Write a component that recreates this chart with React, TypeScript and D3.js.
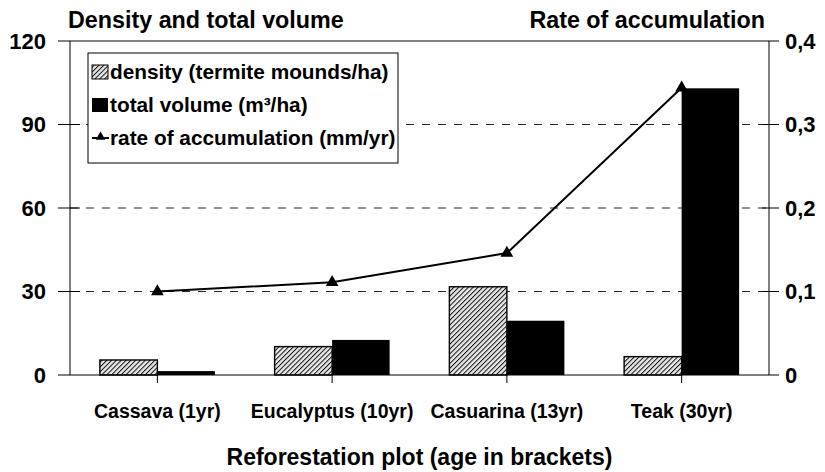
import * as d3 from "d3"
import React from "react"

// values
const categories = ["Cassava (1yr)", "Eucalyptus (10yr)", "Casuarina (13yr)", "Teak (30yr)"]
const density = [5.4, 10.2, 31.7, 6.6]
const volume = [1.4, 12.6, 19.5, 103]
const rate = [0.1, 0.111, 0.146, 0.344]
const leftTicks = [0, 30, 60, 90, 120]
const rightTicks = [0, 0.1, 0.2, 0.3, 0.4]
const legendItems = ["density (termite mounds/ha)", "total volume (m\u00b3/ha)", "rate of accumulation (mm/yr)"]

const width = 825
const height = 472
const margin = { left: 70, right: 56, top: 41, bottom: 97 }
const font = "'Liberation Sans', Arial, Helvetica, sans-serif"

const App = () => {
  const x = d3
    .scaleBand()
    .domain(categories)
    .range([margin.left, width - margin.right])
  const groupW = 115
  const x1 = d3.scaleBand().domain(["density", "volume"]).range([0, groupW])
  const y = d3
    .scaleLinear()
    .domain([0, 120])
    .range([height - margin.bottom, margin.top])
  const y2 = d3
    .scaleLinear()
    .domain([0, 0.4])
    .range([height - margin.bottom, margin.top])

  const cx = (c) => x(c) + x.bandwidth() / 2
  const x0 = margin.left
  const xr = width - margin.right
  const yb = y(0)
  const yt = y(120)

  const line = d3
    .line()
    .x((d, i) => cx(categories[i]))
    .y((d) => y2(d))
  const tri = d3.symbol(d3.symbolTriangle, 70)()
  const fmtR = (v) => (v === 0 ? "0" : d3.format(".1f")(v).replace(".", ","))

  return (
    <svg
      width={width}
      height={height}
      style={{ position: "absolute", left: 0, top: 0, background: "#fff" }}
      fontFamily={font}
      fontWeight="bold"
    >
      <defs>
        <pattern id="hatch" width="3.4" height="3.4" patternUnits="userSpaceOnUse" patternTransform="rotate(45)">
          <rect width="3.4" height="3.4" fill="#e8e8e8" />
          <line x1="0" y1="0" x2="0" y2="3.4" stroke="#111" strokeWidth="2" />
        </pattern>
      </defs>

      {/* gridlines */}
      {leftTicks
        .filter((t) => t > 0 && t < 120)
        .map((t) => (
          <line key={t} x1={x0} x2={xr} y1={y(t)} y2={y(t)} stroke="#222" strokeDasharray="8,8" />
        ))}

      {/* bars */}
      {categories.map((c, i) => {
        const gx = cx(c) - groupW / 2
        return (
          <g key={c}>
            <rect
              x={gx + x1("density")}
              y={y(density[i])}
              width={x1.bandwidth()}
              height={yb - y(density[i])}
              fill="url(#hatch)"
              stroke="#000"
              strokeWidth={1.4}
            />
            <rect
              x={gx + x1("volume")}
              y={y(volume[i])}
              width={x1.bandwidth()}
              height={yb - y(volume[i])}
              fill="#000"
            />
          </g>
        )
      })}

      {/* frame */}
      <line x1={x0} x2={xr} y1={yt} y2={yt} stroke="#000" />
      <line x1={x0} x2={x0} y1={yt} y2={yb} stroke="#000" />
      <line x1={xr} x2={xr} y1={yt} y2={yb} stroke="#000" />
      <line x1={x0} x2={xr} y1={yb} y2={yb} stroke="#000" />

      {/* left axis */}
      {leftTicks.map((t) => (
        <g key={t}>
          <line x1={x0 - 12} x2={t > 0 && t < 120 ? x0 + 10 : x0} y1={y(t)} y2={y(t)} stroke="#000" />
          <text x={46} y={y(t)} dy="0.36em" textAnchor="end" fontSize={22}>
            {t}
          </text>
        </g>
      ))}

      {/* right axis */}
      {rightTicks.map((t) => (
        <g key={t}>
          <line x1={t > 0 && t < 0.4 ? xr - 7 : xr} x2={xr + 10} y1={y2(t)} y2={y2(t)} stroke="#000" />
          <text x={785} y={y2(t)} dy="0.36em" textAnchor="start" fontSize={22}>
            {fmtR(t)}
          </text>
        </g>
      ))}

      {/* x axis ticks and labels */}
      {categories.map((c) => (
        <g key={c}>
          <line x1={cx(c)} x2={cx(c)} y1={yb} y2={yb + 8} stroke="#000" />
          <text x={cx(c)} y={418} textAnchor="middle" fontSize={19.5}>
            {c}
          </text>
        </g>
      ))}

      {/* rate line */}
      <path d={line(rate)} fill="none" stroke="#000" strokeWidth={2} />
      {rate.map((r, i) => (
        <path key={i} d={tri} transform={`translate(${cx(categories[i])},${y2(r)})`} fill="#000" />
      ))}

      {/* legend */}
      <rect x={88} y={53} width={310} height={110} fill="#fff" stroke="#000" />
      <rect x={92} y={65} width={16} height={14} fill="url(#hatch)" stroke="#000" />
      <rect x={92} y={98} width={16} height={14} fill="#000" />
      <line x1={92} x2={109} y1={138} y2={138} stroke="#000" strokeWidth={2} />
      <path d={d3.symbol(d3.symbolTriangle, 40)()} transform="translate(100.5,137)" fill="#000" />
      {legendItems.map((t, i) => (
        <text key={t} x={110} y={72 + i * 33} dy="0.36em" fontSize={20.8}>
          {t}
        </text>
      ))}

      {/* titles */}
      <text x={68} y={28} fontSize={23.3}>
        Density and total volume
      </text>
      <text x={765} y={28} fontSize={23.3} textAnchor="end">
        Rate of accumulation
      </text>
      <text x={(x0 + xr) / 2} y={465} fontSize={23} textAnchor="middle">
        Reforestation plot (age in brackets)
      </text>
    </svg>
  )
}

export default App
